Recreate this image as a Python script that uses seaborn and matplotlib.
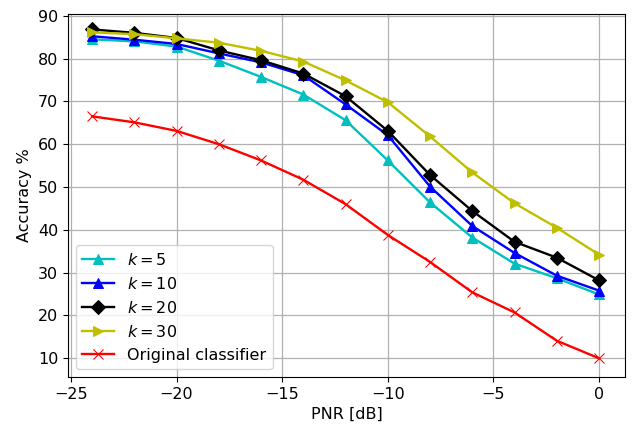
import matplotlib
matplotlib.use("Agg")
import matplotlib.pyplot as plt
import seaborn as sns
import pandas as pd

# --- dados ---
pnr = [-24, -22, -20, -18, -16, -14, -12, -10, -8, -6, -4, -2, 0]
acc_k5 = [84.5, 84.0, 82.8, 79.5, 75.7, 71.6, 65.6, 56.2, 46.4, 38.2, 32.1, 28.7, 24.9]
acc_k10 = [85.2, 84.4, 83.4, 81.2, 79.1, 76.1, 69.3, 62.1, 50.1, 40.9, 34.6, 29.3, 25.8]
acc_k20 = [86.8, 86.0, 84.8, 81.9, 79.6, 76.5, 71.2, 63.1, 52.8, 44.4, 37.2, 33.5, 28.2]
acc_k30 = [86.1, 85.7, 84.7, 83.7, 81.8, 79.3, 74.9, 69.8, 61.8, 53.4, 46.2, 40.5, 34.2]
acc_orig = [66.5, 65.1, 63.1, 60.0, 56.2, 51.7, 46.0, 38.8, 32.5, 25.4, 20.7, 14.1, 10.0]

series = [
    (acc_k5, r"$k = 5$", "c", "^"),
    (acc_k10, r"$k = 10$", "b", "^"),
    (acc_k20, r"$k = 20$", "k", "D"),
    (acc_k30, r"$k = 30$", "y", ">"),
    (acc_orig, "Original classifier", "r", "x"),
]

plt.rcParams["font.size"] = 11.5

fig = plt.figure(figsize=(6.36, 4.26), dpi=100)
# eixo posicionado em pixels: esquerda 68, direita 625, topo 14, base 377
ax = fig.add_axes([68 / 636, (426 - 377) / 426, (625 - 68) / 636, (377 - 14) / 426])

for vals, label, color, marker in series:
    df = pd.DataFrame({"pnr": pnr, "acc": vals})
    sns.lineplot(data=df, x="pnr", y="acc", ax=ax, color=color, marker=marker,
                 markersize=7.5, markeredgecolor=color, linewidth=1.7, label=label)

ax.set_xlabel("PNR [dB]")
ax.set_ylabel("Accuracy %")
ax.set_xticks([-25, -20, -15, -10, -5, 0])
ax.set_yticks(range(10, 91, 10))
ax.set_xlim(-25.14, 1.23)
ax.set_ylim(5.63, 90.4)
ax.grid(True, color="#b0b0b0", linewidth=0.9)
ax.legend(loc="lower left")

plt.savefig("out.png", dpi=100)
plt.close()
